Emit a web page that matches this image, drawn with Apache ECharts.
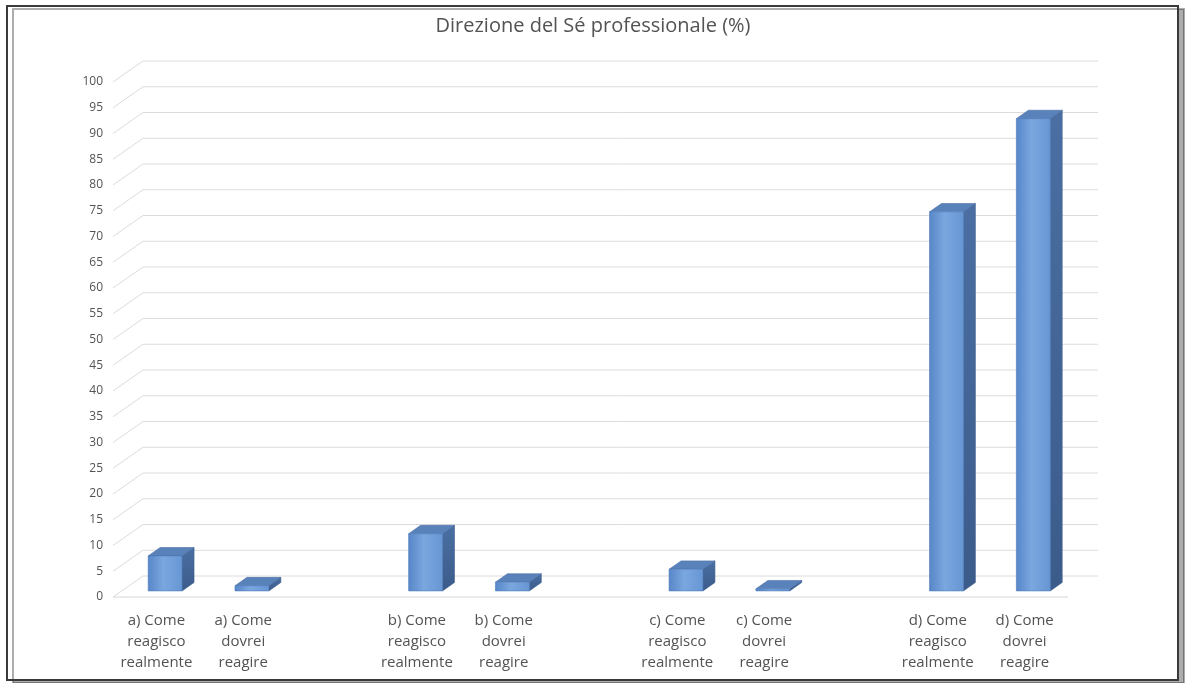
<!DOCTYPE html>
<html>
<head>
<meta charset="utf-8">
<style>
  html, body { margin: 0; padding: 0; background: #ffffff; }
  #chart { width: 1186px; height: 683px; }
</style>
<script src="https://cdn.jsdelivr.net/npm/echarts@6/dist/echarts.min.js"></script>
</head>
<body>
<div id="chart"></div>
<script>
// Bar labels, in the order drawn (two per group)
const categories = [
  'a) Come\nreagisco\nrealmente', 'a) Come\ndovrei\nreagire',
  'b) Come\nreagisco\nrealmente', 'b) Come\ndovrei\nreagire',
  'c) Come\nreagisco\nrealmente', 'c) Come\ndovrei\nreagire',
  'd) Come\nreagisco\nrealmente', 'd) Come\ndovrei\nreagire'
];
// Percentages
const values = [6.8, 1.0, 11.1, 1.7, 4.2, 0.4, 73.6, 91.7];
// Value axis range
const yMin = 0, yMax = 100, yStep = 5;

// Build the category slots: an empty slot separates each pair of bars
const slots = [];
const barData = [];
categories.forEach((c, i) => {
  if (i > 0 && i % 2 === 0) slots.push('');
  slots.push(c);
  barData.push([slots.length - 1, values[i]]);
});
const tickData = [];
for (let v = yMin; v <= yMax; v += yStep) tickData.push([0, v]);

// 3D look: depth of the floor, bar placement inside it
const DX = 30, DY = 21;      // floor depth projection
const F0 = 0.29;             // front of bars, fraction of depth
const BD = 0.40;             // bar depth, fraction of depth
const BW = 0.39;             // bar width, fraction of slot

const font = '"Open Sans", Lato, sans-serif';
const textColor = '#535353';

const chart = echarts.init(document.getElementById('chart'), null, { renderer: 'canvas' });

chart.setOption({
  backgroundColor: '#ffffff',
  animation: false,
  graphic: [{
    type: 'rect',
    z: -10,
    shape: { x: 7, y: 6, width: 1171, height: 674 },
    style: {
      fill: '#ffffff', stroke: '#3a3a3a', lineWidth: 2,
      shadowColor: 'rgba(0,0,0,0.32)', shadowOffsetX: 6, shadowOffsetY: 3, shadowBlur: 0
    }
  }],
  title: {
    text: 'Direzione del Sé professionale (%)',
    left: 'center',
    top: 11,
    textStyle: { fontFamily: font, fontSize: 20, fontWeight: 'normal', color: textColor }
  },
  grid: { left: 113, right: 118, top: 82, bottom: 86 },
  xAxis: {
    type: 'category',
    data: slots,
    axisLine: { show: false },
    axisTick: { show: false },
    splitLine: { show: false },
    axisLabel: {
      interval: 0,
      margin: 13,
      color: textColor,
      fontFamily: font,
      fontSize: 15,
      lineHeight: 21
    }
  },
  yAxis: {
    type: 'value',
    min: yMin,
    max: yMax,
    interval: yStep,
    axisLine: { show: false },
    axisTick: { show: false },
    splitLine: { show: false },
    axisLabel: { margin: 10, color: textColor, fontFamily: font, fontSize: 12 }
  },
  series: [
    {
      // back wall gridlines with their slanted side-wall segments
      type: 'custom',
      clip: false,
      silent: true,
      data: tickData,
      renderItem: function (params, api) {
        const cs = params.coordSys;
        const p = api.coord([0, api.value(1)]);
        const xl = cs.x, xr = cs.x + cs.width;
        const children = [{
          type: 'polyline',
          shape: { points: [[xl, p[1]], [xl + DX, p[1] - DY], [xr + DX, p[1] - DY]] },
          style: { stroke: '#dcdcdc', lineWidth: 1, fill: null }
        }];
        if (api.value(1) === yMin) {
          children.push({
            type: 'line',
            shape: { x1: xl, y1: p[1], x2: xr, y2: p[1] },
            style: { stroke: '#d6d6d6', lineWidth: 1 }
          });
        }
        return { type: 'group', children: children };
      }
    },
    {
      // 3D bars: front face, right side, top
      type: 'custom',
      clip: false,
      data: barData,
      renderItem: function (params, api) {
        const idx = api.value(0);
        const v = api.value(1);
        const base = api.coord([idx, 0]);
        const top = api.coord([idx, v]);
        const slotW = api.size([1, 0])[0];
        const w = slotW * BW;
        const ox = F0 * DX, oy = -F0 * DY;
        const bx = BD * DX, by = -BD * DY;
        const x0 = base[0] - w / 2 + ox, x1 = x0 + w;
        const yb = base[1] + oy, yt = top[1] + oy;
        return {
          type: 'group',
          children: [
            {
              type: 'polygon',
              shape: { points: [[x1, yb], [x1, yt], [x1 + bx, yt + by], [x1 + bx, yb + by]] },
              style: {
                fill: new echarts.graphic.LinearGradient(0, 0, 0, 1, [
                  { offset: 0, color: '#4b6fa3' },
                  { offset: 1, color: '#3b5b8a' }
                ]),
                stroke: '#3f6090', lineWidth: 0.6
              }
            },
            {
              type: 'polygon',
              shape: { points: [[x0, yt], [x1, yt], [x1 + bx, yt + by], [x0 + bx, yt + by]] },
              style: { fill: '#5a82ba', stroke: '#4a6fa5', lineWidth: 0.6 }
            },
            {
              type: 'rect',
              shape: { x: x0, y: yt, width: w, height: Math.max(yb - yt, 0) },
              style: {
                fill: new echarts.graphic.LinearGradient(0, 0, 1, 0, [
                  { offset: 0, color: '#5786c8' },
                  { offset: 0.45, color: '#7ba7df' },
                  { offset: 1, color: '#6796d4' }
                ]),
                stroke: '#4e7cbb', lineWidth: 0.6
              }
            }
          ]
        };
      }
    }
  ]
});
</script>
</body>
</html>
